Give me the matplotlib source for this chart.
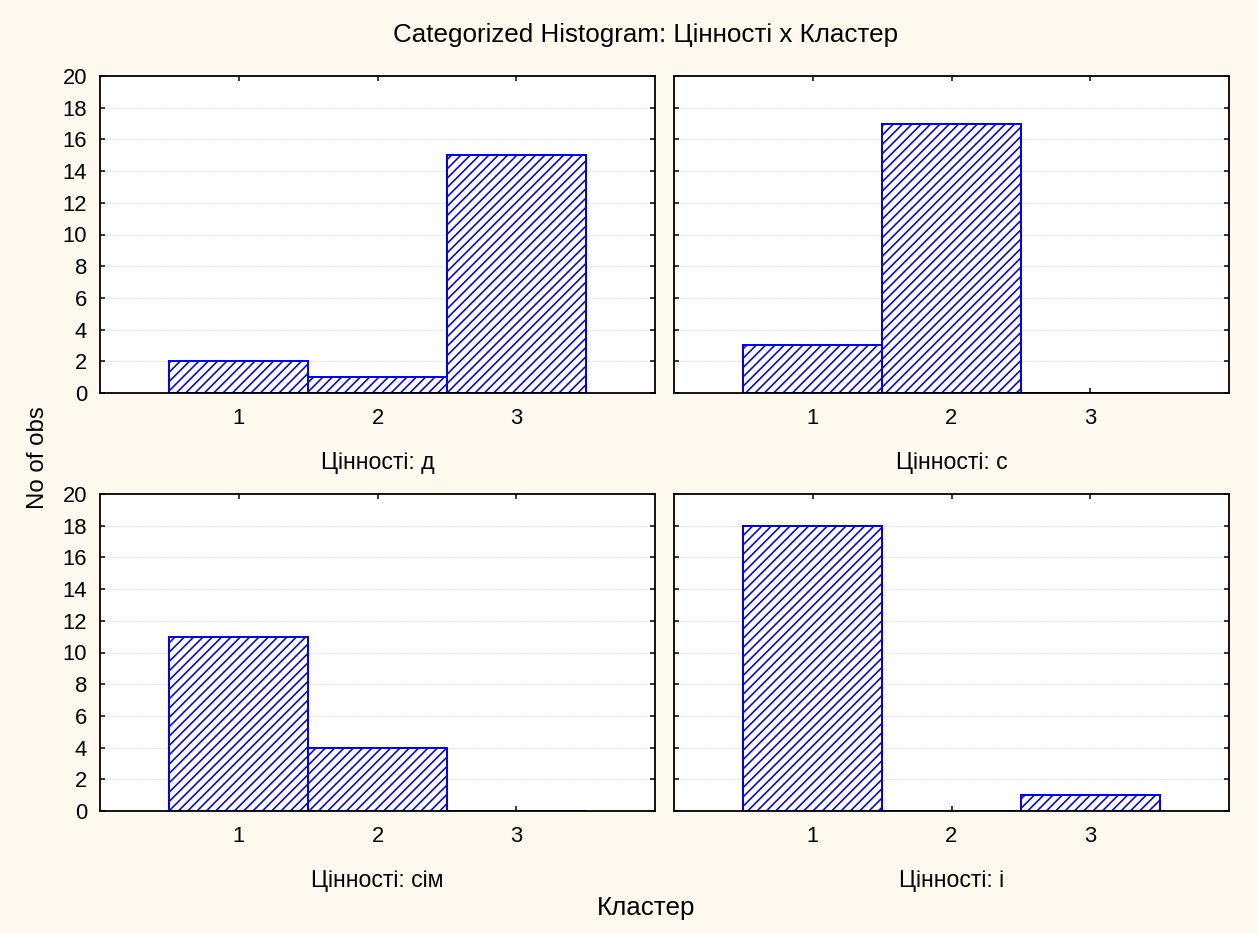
import matplotlib
matplotlib.use('Agg')
import matplotlib.pyplot as plt

DPI = 84
W, H = 1257, 933


def px(v):
    return v * 72.0 / DPI


clusters = [1, 2, 3]
panel_labels = ["Цінності: д", "Цінності: с", "Цінності: сім", "Цінності: і"]
counts_d = [2, 1, 15]
counts_s = [3, 17, 0]
counts_sim = [11, 4, 0]
counts_i = [18, 0, 1]
yticks = list(range(0, 21, 2))

title = "Categorized Histogram: Цінності x Кластер"
xlabel = "Кластер"
ylabel = "No of obs"

bg = '#fdf9ef'
blue = '#0000ff'

plt.rcParams['font.family'] = ['Liberation Sans', 'DejaVu Sans']
plt.rcParams['hatch.color'] = blue
plt.rcParams['hatch.linewidth'] = px(1.6)

fig = plt.figure(figsize=(W / DPI, H / DPI), dpi=DPI, facecolor=bg)

rects = [(100, 76, 655, 393), (674, 76, 1229, 393),
         (100, 494, 655, 811), (674, 494, 1229, 811)]
all_counts = [counts_d, counts_s, counts_sim, counts_i]

for i, ((x0, y0, x1, y1), counts, lab) in enumerate(zip(rects, all_counts, panel_labels)):
    ax = fig.add_axes([x0 / W, 1 - y1 / H, (x1 - x0) / W, (y1 - y0) / H])
    ax.set_facecolor('white')
    ax.bar(clusters, counts, width=1.0, color='white', edgecolor=blue,
           hatch='///', linewidth=px(2), zorder=2)
    ax.set_xlim(0, 4)
    ax.set_ylim(0, 20)
    ax.set_xticks(clusters)
    ax.set_yticks(yticks)
    ax.tick_params(direction='in', top=True, right=True, length=px(5),
                   width=px(1.5), labelsize=px(22), colors='black')
    ax.tick_params(axis='x', pad=px(15.5))
    ax.tick_params(axis='y', pad=px(13))
    ax.yaxis.grid(True, linestyle=(0, (1, 2)), color='#c8c8c8', linewidth=px(1))
    ax.set_axisbelow(True)
    for s in ax.spines.values():
        s.set_linewidth(px(1.8))
        s.set_color('black')
        s.set_zorder(4)
    if i % 2 == 1:
        ax.set_yticklabels([])
    ax.set_xlabel(lab, fontsize=px(23), labelpad=px(22))

fig.text(646 / W, 1 - 35 / H, title, ha='center', va='center', fontsize=px(26))
fig.text(646 / W, 1 - 908 / H, xlabel, ha='center', va='center', fontsize=px(26))
fig.text(38 / W, 1 - 458 / H, ylabel, ha='center', va='center', rotation=90,
         fontsize=px(24))

fig.savefig('out.png', dpi=DPI, facecolor=bg)
